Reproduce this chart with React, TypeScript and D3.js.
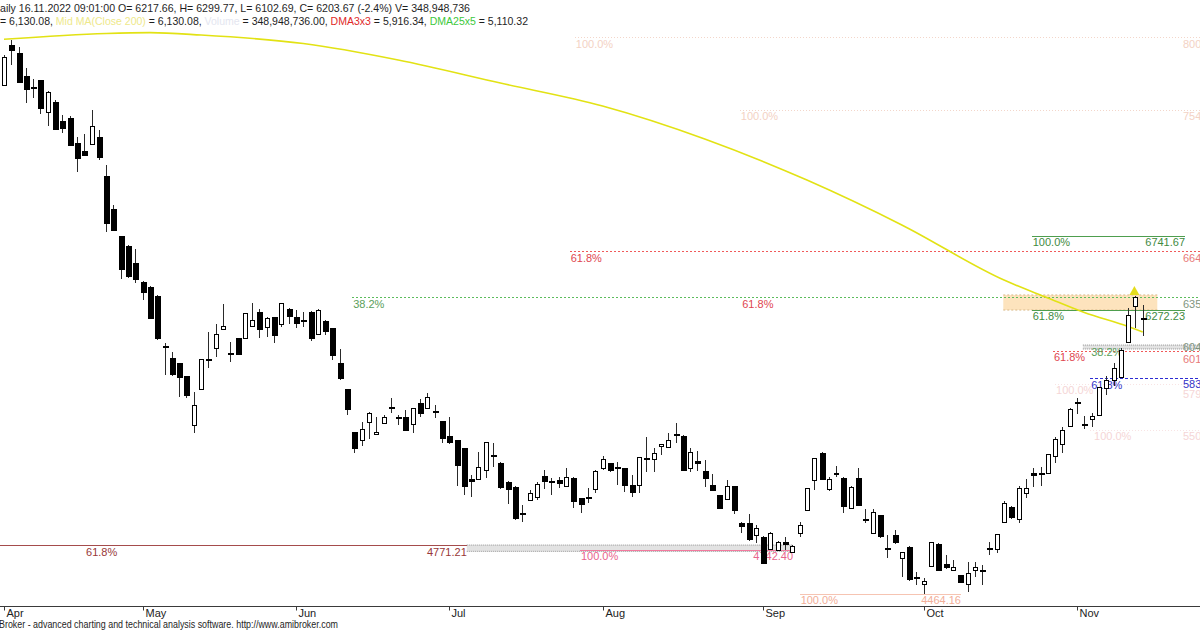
import React from 'react';
import * as d3 from 'd3';

const W = 1200;
const H = 630;

// [open, high, low, close] per trading day, 1 Apr 2022 .. 16 Nov 2022
const ohlc: [number, number, number, number][] = [
  [7704, 7895, 7697, 7884], [7958, 7990, 7831, 7922], [7909, 7944, 7714, 7721], [7763, 7810, 7587, 7672],
  [7693, 7740, 7619, 7690], [7735, 7737, 7517, 7551], [7527, 7667, 7442, 7657], [7597, 7608, 7415, 7417],
  [7476, 7512, 7396, 7428], [7495, 7506, 7313, 7315], [7336, 7374, 7151, 7232], [7285, 7391, 7251, 7253],
  [7328, 7544, 7326, 7444], [7374, 7417, 7226, 7240], [7126, 7194, 6769, 6823], [6914, 6939, 6773, 6775],
  [6740, 6741.67, 6466, 6521], [6680, 6685, 6472, 6482], [6572, 6659, 6444, 6461], [6451, 6455, 6334, 6381],
  [6419, 6422, 6211, 6217], [6361, 6365, 6080, 6084], [6041, 6058, 5856, 6026], [5963, 6005, 5849, 5852],
  [5931, 5934, 5718, 5835], [5850, 5853, 5712, 5724], [5538, 5746, 5485, 5665], [5765, 5960, 5760, 5956],
  [5958, 6132, 5899, 5954], [6026, 6181, 5969, 6117], [6149, 6307, 6147, 6168], [5998, 6068, 5941, 5996],
  [6090, 6093, 5981, 5984], [6090, 6252, 6085, 6249], [6170, 6313, 6168, 6207], [6259, 6275, 6090, 6143],
  [6160, 6228, 6100, 6217], [6224, 6227, 6058, 6100], [6179, 6316, 6164, 6313], [6277, 6280, 6179, 6224],
  [6224, 6270, 6154, 6179], [6207, 6259, 6164, 6203], [6259, 6262, 6075, 6090], [6117, 6274, 6112, 6270],
  [6200, 6204, 6111, 6132], [6154, 6157, 5952, 5977], [5931, 6020, 5824, 5831], [5765, 5768, 5601, 5629],
  [5491, 5494, 5357, 5383], [5442, 5559, 5404, 5512], [5559, 5619, 5447, 5616], [5485, 5591, 5480, 5495],
  [5555, 5602, 5544, 5591], [5651, 5708, 5616, 5648], [5587, 5602, 5538, 5584], [5591, 5633, 5498, 5501],
  [5544, 5648, 5489, 5644], [5676, 5701, 5587, 5608], [5644, 5740, 5641, 5714], [5629, 5665, 5580, 5626],
  [5563, 5566, 5425, 5449], [5468, 5591, 5418, 5421], [5442, 5445, 5151, 5277], [5389, 5392, 5092, 5141],
  [5192, 5219, 5081, 5170], [5198, 5368, 5195, 5272], [5247, 5431, 5198, 5428], [5347, 5421, 5272, 5344],
  [5294, 5304, 5132, 5135], [5177, 5180, 5035, 5124], [5145, 5148, 4933, 4943], [4975, 5028, 4922, 4972],
  [5065, 5124, 5062, 5107], [5077, 5177, 5060, 5162], [5213, 5251, 5128, 5177], [5181, 5198, 5092, 5178],
  [5187, 5208, 5135, 5162], [5149, 5262, 5146, 5205], [5202, 5205, 5007, 5049], [5071, 5074, 4975, 5028],
  [5081, 5135, 5043, 5078], [5135, 5250, 5103, 5247], [5262, 5340, 5251, 5319], [5294, 5298, 5240, 5240],
  [5268, 5304, 5156, 5265], [5262, 5265, 5113, 5145], [5156, 5219, 5081, 5103], [5156, 5335, 5103, 5332],
  [5326, 5463, 5240, 5323], [5319, 5389, 5240, 5357], [5404, 5418, 5347, 5415], [5396, 5489, 5393, 5442],
  [5480, 5552, 5421, 5472], [5470, 5473, 5242, 5245], [5262, 5389, 5240, 5364], [5308, 5372, 5245, 5289],
  [5247, 5315, 5141, 5198], [5156, 5226, 5116, 5119], [5092, 5095, 5000, 5003], [5071, 5187, 5068, 5151],
  [5149, 5152, 4971, 4992], [4912, 4922, 4848, 4884], [4912, 4971, 4798, 4801], [4837, 4901, 4784, 4880],
  [4826, 4829, 4654, 4657], [4752, 4856, 4749, 4852], [4746, 4798, 4742.4, 4794], [4794, 4822, 4741, 4773],
  [4731, 4772, 4720, 4769], [4848, 4922, 4826, 4901], [4992, 5138, 4989, 5135], [5187, 5329, 5124, 5326],
  [5361, 5364, 5189, 5192], [5128, 5208, 5119, 5192], [5226, 5277, 5205, 5234], [5202, 5205, 4979, 5017],
  [5011, 5148, 5001, 5145], [5202, 5262, 5019, 5022], [4939, 5001, 4915, 4936], [4848, 5003, 4845, 4982],
  [4964, 4967, 4819, 4822], [4756, 4837, 4693, 4753], [4837, 4869, 4781, 4784], [4689, 4730, 4568, 4727],
  [4763, 4766, 4547, 4550], [4571, 4603, 4519, 4568], [4525, 4561, 4464.16, 4546], [4635, 4794, 4632, 4791],
  [4780, 4783, 4607, 4610], [4650, 4708, 4622, 4625], [4610, 4678, 4607, 4631], [4582, 4585, 4530, 4533],
  [4529, 4667, 4476, 4597], [4614, 4667, 4571, 4635], [4616, 4646, 4519, 4613], [4756, 4794, 4710, 4753],
  [4746, 4846, 4724, 4843], [4922, 5056, 4919, 5043], [5017, 5020, 4937, 4947], [4937, 5149, 4912, 5135],
  [5103, 5194, 5071, 5135], [5234, 5262, 5145, 5213], [5234, 5268, 5151, 5231], [5230, 5354, 5227, 5351],
  [5336, 5463, 5298, 5447], [5417, 5527, 5358, 5506], [5531, 5644, 5528, 5640], [5682, 5708, 5606, 5670],
  [5544, 5595, 5510, 5541], [5574, 5612, 5527, 5595], [5601, 5781, 5598, 5778], [5772, 5850, 5729, 5824],
  [5820, 5931, 5786, 5899], [5845, 6026, 5842, 6015], [6068, 6281, 6065, 6238], [6296, 6359, 6158, 6356],
  [6217.66, 6299.77, 6102.69, 6203.67],
];

const lastVolume = 348948736;
const midMA = 6130.08;
const dma3x3 = 5916.34;
const dma25x5 = 5110.32;
const headerDate = '16.11.2022 09:01:00';

const monthNames = ['Apr', 'May', 'Jun', 'Jul', 'Aug', 'Sep', 'Oct', 'Nov'];
const monthFirstBar = [0, 19, 40, 61, 82, 104, 126, 147];

// Mid MA(Close 200) sampled at bars
const maBars = [0, 14, 20, 27, 41, 54, 68, 82, 96, 110, 123, 137, 143, 148, 154, 156];
const maValues = [7995, 8032, 8037, 8022, 7968, 7863, 7716, 7570, 7360, 7098, 6812, 6461, 6347, 6254, 6165, 6130.08];

// Fibonacci levels: price, start bar, end bar (null = right edge)
const fibLevels: { price: number; from: number; to: number | null; kind: string }[] = [
  { price: 8009, from: 78.2, to: null, kind: 'faint' },
  { price: 7545, from: 100.8, to: null, kind: 'faint' },
  { price: 6645, from: 77.5, to: null, kind: 'red' },
  { price: 6741.67, from: 140.8, to: 161.8, kind: 'green' },
  { price: 6353, from: 47.7, to: null, kind: 'greenDot' },
  { price: 6272.23, from: 140.8, to: 161.8, kind: 'green' },
  { price: 6012, from: 143.7, to: null, kind: 'red' },
  { price: 5837, from: 148.8, to: null, kind: 'blue' },
  { price: 5799, from: 144, to: null, kind: 'faintPink' },
  { price: 5506, from: 148.8, to: null, kind: 'faintPink' },
  { price: 4771.21, from: -0.6, to: 63.4, kind: 'darkRed' },
  { price: 4742.4, from: 78.9, to: 108.1, kind: 'pink' },
  { price: 4464.16, from: 109, to: 131.1, kind: 'salmon' },
];

const fibBands: { top: number; bottom: number; from: number; to: number | null; kind: string }[] = [
  { top: 6366, bottom: 6270, from: 136.9, to: 158, kind: 'zone' },
  { top: 6047, bottom: 6022, from: 147.8, to: null, kind: 'band' },
  { top: 4773, bottom: 4733, from: 63.4, to: 108.1, kind: 'band' },
];

const fibLabels: { text: string; price: number; at: number; anchor: 'start' | 'end'; kind: string }[] = [
  { text: '100.0%', price: 8009, at: 78.2, anchor: 'start', kind: 'faint' },
  { text: '100.0%', price: 7545, at: 100.8, anchor: 'start', kind: 'faint' },
  { text: '61.8%', price: 6645, at: 77.5, anchor: 'start', kind: 'red' },
  { text: '100.0%', price: 6741.67, at: 140.8, anchor: 'start', kind: 'green' },
  { text: '6741.67', price: 6741.67, at: 161.8, anchor: 'end', kind: 'green' },
  { text: '38.2%', price: 6353, at: 47.7, anchor: 'start', kind: 'greenDot' },
  { text: '61.8%', price: 6353, at: 101, anchor: 'start', kind: 'red' },
  { text: '61.8%', price: 6272.23, at: 140.8, anchor: 'start', kind: 'green' },
  { text: '6272.23', price: 6272.23, at: 161.8, anchor: 'end', kind: 'green' },
  { text: '38.2%', price: 6047, at: 148.8, anchor: 'start', kind: 'greenDot' },
  { text: '61.8%', price: 6012, at: 143.7, anchor: 'start', kind: 'red' },
  { text: '61.8%', price: 5837, at: 148.8, anchor: 'start', kind: 'blue' },
  { text: '100.0%', price: 5799, at: 144, anchor: 'start', kind: 'faintPink' },
  { text: '100.0%', price: 5506, at: 149.2, anchor: 'start', kind: 'faintPink' },
  { text: '61.8%', price: 4771.21, at: 11.1, anchor: 'start', kind: 'darkRed' },
  { text: '4771.21', price: 4771.21, at: 63.4, anchor: 'end', kind: 'darkRed' },
  { text: '100.0%', price: 4742.4, at: 78.9, anchor: 'start', kind: 'pink' },
  { text: '4742.40', price: 4742.4, at: 108.1, anchor: 'end', kind: 'pink' },
  { text: '100.0%', price: 4464.16, at: 109, anchor: 'start', kind: 'salmon' },
  { text: '4464.16', price: 4464.16, at: 131.1, anchor: 'end', kind: 'salmon' },
];

// right-edge (clipped) price labels; shift = vertical nudge to keep them apart
const edgeLabels: { text: string; price: number; kind: string; shift: number }[] = [
  { text: '800', price: 8009, kind: 'faint', shift: 0 },
  { text: '754', price: 7545, kind: 'faint', shift: 0 },
  { text: '664', price: 6645, kind: 'redLight', shift: 0 },
  { text: '635', price: 6353, kind: 'greenGrey', shift: 0 },
  { text: '604', price: 6047, kind: 'greenGrey', shift: -5 },
  { text: '601', price: 6012, kind: 'redLight', shift: 2 },
  { text: '583', price: 5837, kind: 'blue', shift: -1 },
  { text: '579', price: 5799, kind: 'faintPink', shift: 4 },
  { text: '550', price: 5506, kind: 'faintPink', shift: 0 },
];

const kindStyle: Record<string, { stroke: string; dash?: string; text: string }> = {
  faint: { stroke: '#f3d6ca', dash: '1,2', text: '#f3d2c4' },
  faintPink: { stroke: '#f8e4e4', dash: '1,2', text: '#f5d6d6' },
  red: { stroke: '#f05a5a', dash: '2,2', text: '#e0464f' },
  redLight: { stroke: '#e66a6a', text: '#e87a7a' },
  green: { stroke: '#4e9e4e', text: '#3f8a3f' },
  greenDot: { stroke: '#5cbc5c', dash: '2,2', text: '#5a9e5a' },
  greenGrey: { stroke: '#8aa08a', text: '#7f957f' },
  blue: { stroke: '#2c2cd2', dash: '3,2', text: '#3434c8' },
  darkRed: { stroke: '#a54c4c', text: '#983838' },
  pink: { stroke: '#f27a9e', text: '#e8648c' },
  salmon: { stroke: '#f6c4b2', text: '#f2ae98' },
};

const FONT = "'Liberation Sans', Arial, sans-serif";

export default function App() {
  const x = d3.scaleLinear().domain([0, 156]).range([4, 1142.7]);
  const y = d3.scaleLinear().domain([4372, 8245]).range([608, 0]);
  const xr = (b: number | null) => (b === null ? W : x(b));
  const axisY = 606.5;

  const maLine = d3
    .line<number>()
    .x((_, i) => x(maBars[i]))
    .y((v) => y(v))
    .curve(d3.curveMonotoneX)(maValues) as string;

  const last = ohlc[ohlc.length - 1];
  const prev = ohlc[ohlc.length - 2];
  const chg = ((last[3] / prev[3] - 1) * 100).toFixed(1);
  const f2 = d3.format(',.2f');
  const fc = d3.format(',');

  const arrowBar = 155;
  const ax = x(arrowBar);
  const ay = y(ohlc[arrowBar][1]);

  return (
    <svg
      width={W}
      height={H}
      viewBox={`0 0 ${W} ${H}`}
      style={{ position: 'absolute', left: 0, top: 0, background: '#fff', fontFamily: FONT }}
    >
      <rect x={0} y={0} width={W} height={H} fill="#fff" />

      {/* bands */}
      {fibBands.map((b, i) => {
        const x1 = xr(b.from);
        const x2 = xr(b.to);
        const y1 = y(b.top);
        const y2 = y(b.bottom);
        if (b.kind === 'zone') {
          return (
            <g key={'b' + i}>
              <rect x={x1} y={y1} width={x2 - x1} height={y2 - y1} fill="#fde3bd" />
              <line x1={x1} x2={x2} y1={y1} y2={y1} stroke="#d8b888" strokeDasharray="2,2" />
              <line x1={x1} x2={x2} y1={y2} y2={y2} stroke="#d8b888" strokeDasharray="2,2" />
            </g>
          );
        }
        return (
          <g key={'b' + i}>
            <rect x={x1} y={y1} width={x2 - x1} height={y2 - y1} fill="#e2e2e2" />
            <line x1={x1} x2={x2} y1={y1} y2={y1} stroke="#909090" strokeDasharray="1,1" />
            <line x1={x1} x2={x2} y1={y2} y2={y2} stroke="#909090" strokeDasharray="1,1" />
          </g>
        );
      })}

      {/* fib lines */}
      {fibLevels.map((l, i) => {
        const s = kindStyle[l.kind];
        const yy = Math.round(y(l.price)) + 0.5;
        return (
          <line
            key={'l' + i}
            x1={xr(l.from)}
            x2={xr(l.to)}
            y1={yy}
            y2={yy}
            stroke={s.stroke}
            strokeWidth={1}
            strokeDasharray={s.dash}
            shapeRendering="crispEdges"
          />
        );
      })}

      {/* fib labels */}
      {fibLabels.map((t, i) => (
        <text
          key={'t' + i}
          x={t.anchor === 'start' ? x(t.at) + 1 : x(t.at)}
          y={y(t.price) + 10.5}
          fontSize={11}
          fill={kindStyle[t.kind].text}
          textAnchor={t.anchor}
        >
          {t.text}
        </text>
      ))}
      {edgeLabels.map((t, i) => (
        <text key={'e' + i} x={1183} y={y(t.price) + 10.5 + t.shift} fontSize={11} fill={kindStyle[t.kind].text}>
          {t.text}
        </text>
      ))}

      {/* moving average */}
      <path d={maLine} fill="none" stroke="#e2e214" strokeWidth={1.6} />

      {/* candles */}
      {ohlc.map(([o, h, l, c], i) => {
        const cx = Math.round(x(i));
        const yo = y(o);
        const yc = y(c);
        const top = Math.min(yo, yc);
        const bot = Math.max(yo, yc);
        const up = c > o;
        return (
          <g key={'c' + i} shapeRendering="crispEdges">
            <line x1={cx + 0.5} x2={cx + 0.5} y1={y(h)} y2={y(l)} stroke="#2a2a2a" strokeWidth={1} />
            {up ? (
              <rect
                x={cx - 2 + 0.5}
                y={Math.round(top) + 0.5}
                width={4}
                height={Math.max(1, Math.round(bot - top))}
                fill="#fff"
                stroke="#000"
                strokeWidth={1}
              />
            ) : (
              <rect
                x={cx - 2}
                y={Math.round(top)}
                width={6}
                height={Math.max(1.5, Math.round(bot - top))}
                fill="#000"
              />
            )}
          </g>
        );
      })}

      {/* signal arrow */}
      <path
        d={`M${ax - 1},${ay - 10} L${ax + 4},${ay - 1} L${ax - 6},${ay - 1} Z`}
        fill="#e4dc1c"
      />

      {/* x axis */}
      <line x1={0} x2={W} y1={axisY} y2={axisY} stroke="#3a3a3a" strokeWidth={1} />
      {monthFirstBar.map((b, i) => {
        const mx = Math.round(x(b)) + 0.5;
        return (
          <g key={'m' + i}>
            <line x1={mx} x2={mx} y1={axisY} y2={axisY + 4} stroke="#3a3a3a" />
            <text x={mx + 2} y={617} fontSize={11} fill="#222">
              {monthNames[i]}
            </text>
          </g>
        );
      })}

      {/* header */}
      <text x={0} y={11.5} fontSize={11} fill="#1e1e1e" textLength={470} lengthAdjust="spacingAndGlyphs">
        {`aily ${headerDate} O= ${last[0].toFixed(2)}, H= ${last[1].toFixed(2)}, L= ${last[2].toFixed(2)}, C= ${last[3].toFixed(2)} (${chg}%) V= ${fc(lastVolume)}`}
      </text>
      <text x={0} y={24.5} fontSize={11} fill="#1e1e1e" textLength={528} lengthAdjust="spacingAndGlyphs">
        <tspan>{`= ${f2(midMA)}, `}</tspan>
        <tspan fill="#eee88a">Mid MA(Close 200)</tspan>
        <tspan>{` = ${f2(midMA)}, `}</tspan>
        <tspan fill="#e4e6f0">Volume</tspan>
        <tspan>{` = ${f2(lastVolume)}, `}</tspan>
        <tspan fill="#e02828">DMA3x3</tspan>
        <tspan>{` = ${f2(dma3x3)}, `}</tspan>
        <tspan fill="#3cc83c">DMA25x5</tspan>
        <tspan>{` = ${f2(dma25x5)}`}</tspan>
      </text>

      {/* footer */}
      <text x={-1} y={627.5} fontSize={11} fill="#1e1e1e" textLength={339} lengthAdjust="spacingAndGlyphs">
        Broker - advanced charting and technical analysis software. http://www.amibroker.com
      </text>
    </svg>
  );
}
